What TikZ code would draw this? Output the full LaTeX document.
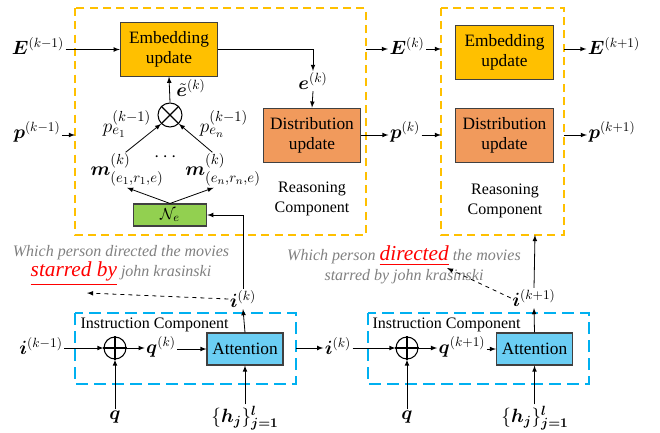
\documentclass[tikz,border=0pt]{standalone}
\usepackage{amsmath}
\usepackage{bm}
\usepackage{fontspec}
\setmainfont{Liberation Serif}
\usepackage{tikz}

\definecolor{embfill}{RGB}{255,192,0}
\definecolor{distfill}{RGB}{241,154,92}
\definecolor{nefill}{RGB}{146,208,80}
\definecolor{attfill}{RGB}{107,206,244}
\definecolor{instline}{RGB}{0,176,240}
\definecolor{reasline}{RGB}{255,192,0}
\newcommand{\redword}[1]{{\color{red}\fontsize{16}{18}\selectfont\underline{#1}}}

\begin{document}
\begin{tikzpicture}
  [x=0.75pt,y=-0.75pt,>=latex,
   every node/.style={inner sep=1pt,font=\fontsize{14}{16}\selectfont},
   blk/.style={draw=black!75,line width=0.8pt,align=center,inner sep=0pt,font=\fontsize{13}{15}\selectfont},
   emb/.style={blk,fill=embfill,minimum width=73pt,minimum height=40pt},
   dist/.style={blk,fill=distfill,minimum width=73pt,minimum height=41pt},
   nbox/.style={blk,fill=nefill,minimum width=55pt,minimum height=16.5pt},
   att/.style={blk,fill=attfill,minimum width=57pt,minimum height=24pt},
   op/.style={circle,draw,line width=0.8pt,inner sep=0pt},
   big/.style={font=\fontsize{15.5}{17}\selectfont},
   captxt/.style={font=\fontsize{12}{14.5}\selectfont,align=center},
   ques/.style={font=\fontsize{12}{15}\selectfont\itshape,text=black!50,align=center},
   link/.style={->,line width=0.6pt},
   reas/.style={draw=reasline,line width=1.1pt,dash pattern=on 6pt off 4pt},
   inst/.style={draw=instline,line width=1.4pt,dash pattern=on 9pt off 4.5pt}]
  \useasboundingbox (0,0) rectangle (660,432);

  \draw[reas] (75,8) rectangle (366,235);
  \draw[reas] (441,8) rectangle (564,235);
  \draw[inst] (75,313) rectangle (296,384);
  \draw[inst] (368,313) rectangle (589,384);

  \node[emb] (emb1) at (169,49.5) {Embedding\\update};
  \node[dist] (dist1) at (312,135.5) {Distribution\\update};
  \node[emb] (emb2) at (504.5,52.5) {Embedding\\update};
  \node[dist] (dist2) at (504.5,135.5) {Distribution\\update};
  \node[nbox] (ne) at (170,215) {$\mathcal{N}_e$};
  \node[att] (att1) at (245,349) {Attention};
  \node[att] (att2) at (534.5,349) {Attention};

  \node[captxt] (rc1) at (312,199) {Reasoning\\Component};
  \node[captxt] (rc2) at (505,201) {Reasoning\\Component};
  \node[captxt,anchor=west] (ic1) at (79,325) {Instruction Component};
  \node[captxt,anchor=west] (ic2) at (371,325) {Instruction Component};

  \node[op,minimum size=18pt] (mul) at (170,115) {};
  \draw[line width=0.8pt] (mul.north west) -- (mul.south east) (mul.north east) -- (mul.south west);
  \node[op,minimum size=16.5pt] (add1) at (115,348) {};
  \node[op,minimum size=16.5pt] (add2) at (407,348) {};
  \foreach \a in {add1,add2}
    \draw[line width=0.8pt] (\a.north) -- (\a.south) (\a.west) -- (\a.east);

  \node (Ekm1) at (38,46) {$\boldsymbol{E}^{(k-1)}$};
  \node (pkm1) at (37,132) {$\boldsymbol{p}^{(k-1)}$};
  \node (ek) at (313,81) {$\boldsymbol{e}^{(k)}$};
  \node[inner sep=0pt] (et) at (191,88) {$\tilde{\boldsymbol{e}}^{(k)}$};
  \node[big] (pe1) at (127,124) {$p^{(k-1)}_{e_1}$};
  \node[big] (pen) at (224,124) {$p^{(k-1)}_{e_n}$};
  \node[big] (m1) at (127,170) {$\boldsymbol{m}^{(k)}_{(e_1,r_1,e)}$};
  \node[big] (mn) at (223,170) {$\boldsymbol{m}^{(k)}_{(e_n,r_n,e)}$};
  \node (dots) at (167,157) {$\cdots$};
  \node (Ek) at (407,46) {$\boldsymbol{E}^{(k)}$};
  \node (pk) at (405,132) {$\boldsymbol{p}^{(k)}$};
  \node (Ek1) at (614,46) {$\boldsymbol{E}^{(k+1)}$};
  \node (pk1) at (612,132) {$\boldsymbol{p}^{(k+1)}$};

  \node (ik1) at (243,299) {$\boldsymbol{i}^{(k)}$};
  \node (ikm1) at (41,346) {$\boldsymbol{i}^{(k-1)}$};
  \node (qk) at (161,347) {$\boldsymbol{q}^{(k)}$};
  \node (ikm) at (338,346) {$\boldsymbol{i}^{(k)}$};
  \node (qk1) at (462,347) {$\boldsymbol{q}^{(k+1)}$};
  \node (ik2) at (534,298) {$\boldsymbol{i}^{(k+1)}$};
  \node (qa) at (115,417) {$\boldsymbol{q}$};
  \node (qb) at (407,417) {$\boldsymbol{q}$};
  \node (ha) at (245,418) {$\{\boldsymbol{h_j}\}_{\boldsymbol{j=1}}^{\boldsymbol{l}}$};
  \node (hb) at (535,418) {$\{\boldsymbol{h_j}\}_{\boldsymbol{j=1}}^{\boldsymbol{l}}$};

  \node[ques] (ques1) at (121,266) {Which person directed the movies\\
    \redword{starred by} john krasinski};
  \node[ques] (ques2) at (404,265) {Which person \redword{directed} the movies\\
    starred by john krasinski};

  \coordinate (r1p) at (75,135);
  \coordinate (r1e) at (366,49);
  \coordinate (l2e) at (441,49);
  \coordinate (l2p) at (441,135);
  \coordinate (r2e) at (564,49);
  \coordinate (r2p) at (564,135);
  \coordinate (r2b) at (535,235);
  \coordinate (i1r) at (296,348);
  \coordinate (tip1) at (87,293);
  \coordinate (tip2) at (447,268);

  \draw[link] (Ekm1.east |- emb1) -- (emb1.west);
  \draw[link] (pkm1.east |- r1p) -- (r1p);
  \draw[link] (emb1.east) -| (ek.north);
  \draw[link] (ek.south) -- (dist1.north);
  \draw[link] (mul.north) -- (emb1.south);
  \draw[link] ([xshift=-1pt]m1.north) -- (mul.225);
  \draw[link] ([xshift=-8pt]mn.north) -- (mul.315);
  \draw[link] (ne.north) -- (m1.south);
  \draw[link] (ne.north) -- ([xshift=-7pt]mn.south);
  \draw[link] (ik1.north) |- (ne.east);
  \draw[link,dashed] (ik1.west) -- (tip1);
  \draw[link,dashed] (ik2.west) -- (tip2);

  \draw[link] (r1e) -- (r1e -| Ek.west);
  \draw[link] (Ek.east |- l2e) -- (l2e);
  \draw[link] (dist1.east |- l2p) -- (l2p -| pk.west);
  \draw[link] (pk.east |- l2p) -- (l2p);
  \draw[link] (r2e) -- (r2e -| Ek1.west);
  \draw[link] (r2p) -- (r2p -| pk1.west);

  \draw[link] (ikm1.east |- add1) -- (add1.west);
  \draw[link] (add1.east) -- (add1 -| qk.west);
  \draw[link] (qk.east |- att1) -- (att1.west);
  \draw[link] (qa.north) -- (add1.south);
  \draw[link] (ha.north -| att1.south) -- (att1.south);
  \draw[link] (att1.north) -- (ik1.south);
  \draw[link] (i1r) -- (i1r -| ikm.west);
  \draw[link] (ikm.east |- add2) -- (add2.west);
  \draw[link] (add2.east) -- (add2 -| qk1.west);
  \draw[link] (qk1.east |- att2) -- (att2.west);
  \draw[link] (qb.north) -- (add2.south);
  \draw[link] (hb.north -| att2.south) -- (att2.south);
  \draw[link] (att2.north) -- (ik2.south);
  \draw[link] (ik2.north) -- (r2b);
\end{tikzpicture}
\end{document}
